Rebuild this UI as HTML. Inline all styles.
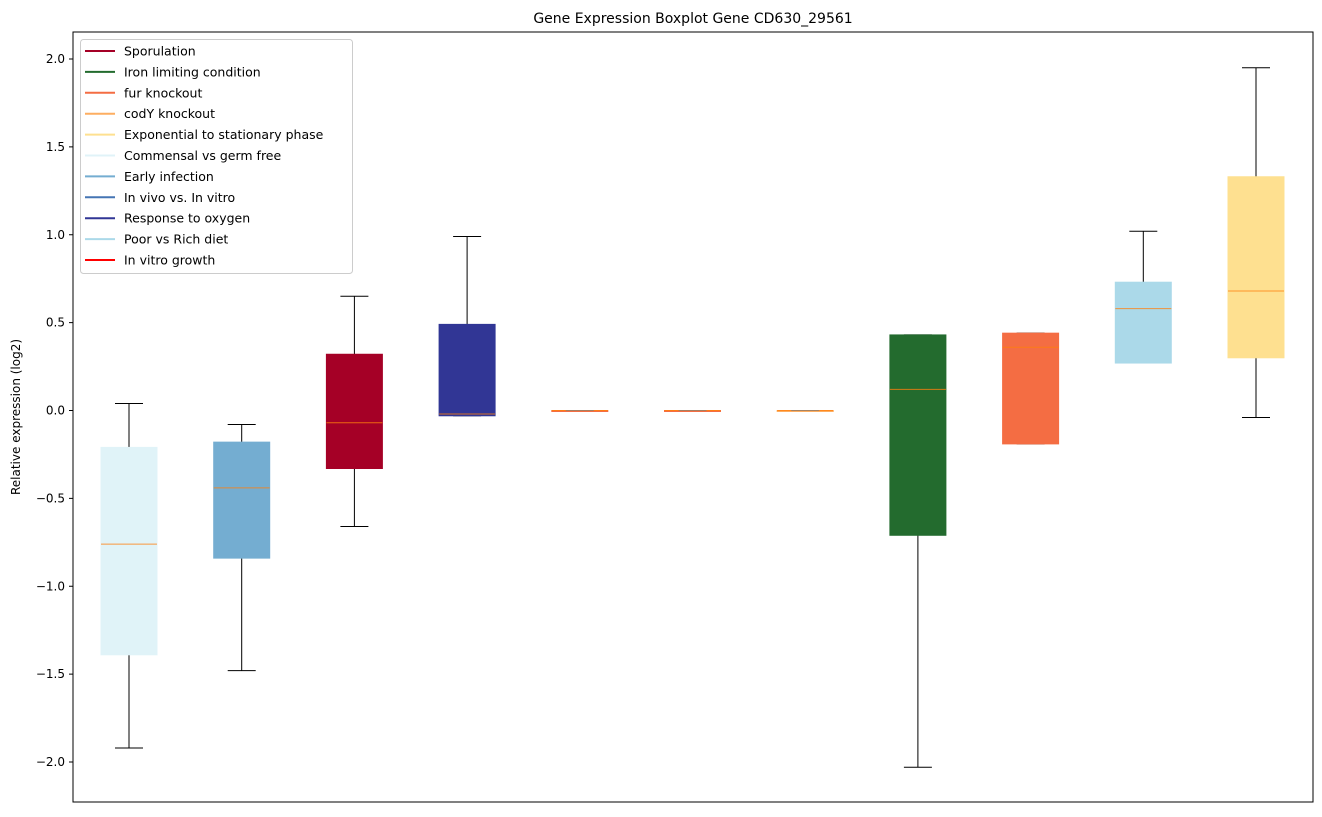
<!DOCTYPE html>
<html><head><meta charset="utf-8"><style>
body{margin:0;background:#fff;font-family:"Liberation Sans","DejaVu Sans",sans-serif;}
svg text{font-family:"DejaVu Sans","Liberation Sans",sans-serif;}
</style></head><body>
<svg id="chart" width="1322" height="812" xmlns="http://www.w3.org/2000/svg">
<text x="693" y="23" font-size="14" text-anchor="middle">Gene Expression Boxplot Gene CD630_29561</text>
<text transform="translate(20,417) rotate(-90)" font-size="12" text-anchor="middle">Relative expression (log2)</text>
<g id="boxes"></g>
<g id="yaxis"></g>
<rect x="73" y="32" width="1240" height="770" fill="none" stroke="#000" stroke-width="1"/>
<g id="legend"></g>
</svg>
<script>
const categories=["Commensal vs germ free","Early infection","Sporulation","Response to oxygen","In vitro growth","In vivo vs. In vitro","codY knockout","Iron limiting condition","fur knockout","Poor vs Rich diet","Exponential to stationary phase"];
const whiskerHigh=[0.04,-0.08,0.65,0.99,0,0,0,0.43,0.44,1.02,1.95];
const q3Values=[-0.21,-0.18,0.32,0.49,0,0,0,0.43,0.44,0.73,1.33];
const medians=[-0.76,-0.44,-0.07,-0.02,0,0,0,0.12,0.36,0.58,0.68];
const q1Values=[-1.39,-0.84,-0.33,-0.03,0,0,0,-0.71,-0.19,0.27,0.30];
const whiskerLow=[-1.92,-1.48,-0.66,-0.03,0,0,0,-2.03,-0.19,0.27,-0.04];
const boxColors=["#e0f3f8","#74add1","#a50026","#313695","#f46d43","#f46d43","#fdae61","#236b2e","#f46d43","#abd9e9","#fee090"];
const yTicks=[-2.0,-1.5,-1.0,-0.5,0.0,0.5,1.0,1.5,2.0];
const legendLabels=["Sporulation","Iron limiting condition","fur knockout","codY knockout","Exponential to stationary phase","Commensal vs germ free","Early infection","In vivo vs. In vitro","Response to oxygen","Poor vs Rich diet","In vitro growth"];
const legendColors=["#a50026","#236b2e","#f46d43","#fdae61","#fee090","#e0f3f8","#74add1","#4575b4","#313695","#abd9e9","#ff0000"];

const NS="http://www.w3.org/2000/svg";
const y=v=>410.5-v*175.75;
const x=i=>129+i*112.7;
function mk(tag,attrs,parent){const e=document.createElementNS(NS,tag);for(const k in attrs)e.setAttribute(k,attrs[k]);parent.appendChild(e);return e;}
const gb=document.getElementById('boxes');
categories.forEach((c,i)=>{
  const g=mk('g',{},gb);
  
  
  const cx=x(i);
  mk('line',{x1:cx,x2:cx,y1:y(q3Values[i]),y2:y(whiskerHigh[i]),stroke:'#000'},g);
  mk('line',{x1:cx,x2:cx,y1:y(q1Values[i]),y2:y(whiskerLow[i]),stroke:'#000'},g);
  mk('line',{x1:cx-14,x2:cx+14,y1:y(whiskerHigh[i]),y2:y(whiskerHigh[i]),stroke:'#000'},g);
  mk('line',{x1:cx-14,x2:cx+14,y1:y(whiskerLow[i]),y2:y(whiskerLow[i]),stroke:'#000'},g);
  const h=Math.max(y(q1Values[i])-y(q3Values[i]),1);
  mk('rect',{x:cx-28,y:y(q3Values[i]),width:56,height:h,fill:boxColors[i],stroke:boxColors[i]},g);
  mk('line',{x1:cx-28,x2:cx+28,y1:y(medians[i]),y2:y(medians[i]),stroke:'#ff7f0e',"stroke-opacity":0.8},g);
  if(h<=1) mk('line',{x1:cx-14,x2:cx+14,y1:y(medians[i]),y2:y(medians[i]),stroke:'#808080',"stroke-opacity":0.7},g);
});
const ga=document.getElementById('yaxis');
yTicks.forEach(t=>{
  mk('line',{x1:69,x2:73,y1:y(t),y2:y(t),stroke:'#000'},ga);
  const tx=mk('text',{x:65,y:y(t)+4,"font-size":12,"text-anchor":"end"},ga);
  tx.textContent=(t<0?'\u2212':'')+Math.abs(t).toFixed(1);
  
  
});
const gl=document.getElementById('legend');


mk('rect',{x:80.5,y:39.5,width:272,height:234,rx:3,fill:'#fff',"fill-opacity":0.8,stroke:'#ccc'},gl);
legendLabels.forEach((l,i)=>{
  const yy=51+i*20.9;
  const e=mk('g',{},gl);
  
  
  mk('line',{x1:85,x2:115,y1:yy,y2:yy,stroke:legendColors[i],"stroke-width":2},e);
  const t=mk('text',{x:124,y:yy+4.5,"font-size":12.5},e);
  t.textContent=l;
});
</script>
</body></html>
